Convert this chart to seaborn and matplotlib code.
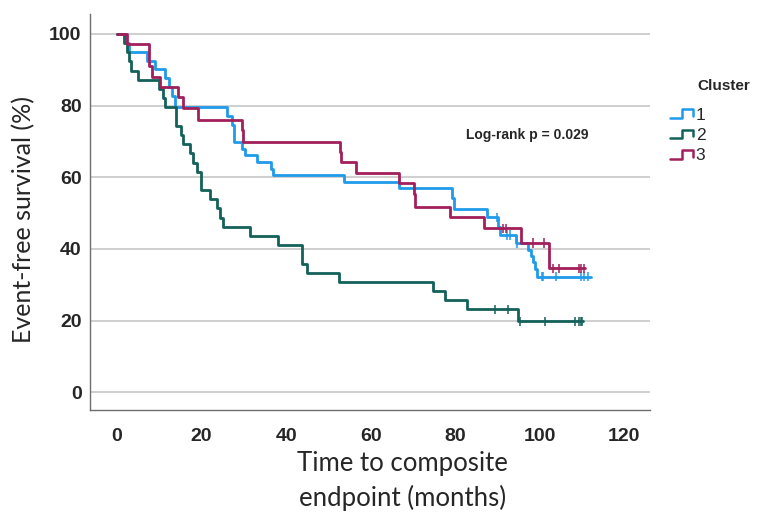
import numpy as np
import pandas as pd
import matplotlib
matplotlib.use("Agg")
import matplotlib.pyplot as plt
import seaborn as sns
from matplotlib.lines import Line2D
from matplotlib.legend_handler import HandlerBase

# Kaplan-Meier step values (months, % event-free)
c1_time = [0, 2.2, 2.8, 7.1, 9.0, 11.4, 12.2, 13.0, 13.8, 26.0, 27.3, 27.6, 27.8, 29.5, 30.3,
           33.1, 36.4, 36.9, 53.6, 66.8, 79.3, 79.8, 87.5, 90.1, 90.6, 94.3, 97.3, 97.9, 98.3,
           98.9, 99.3]
c1_surv = [100, 97.5, 95.0, 92.5, 90.3, 87.8, 85.2, 82.7, 79.6, 77.2, 74.6, 72.2, 69.8, 67.9, 66.1,
           64.3, 62.4, 60.5, 58.6, 56.9, 54.3, 51.2, 48.8, 46.2, 43.9, 41.5, 39.7, 38.0, 36.3,
           34.5, 32.2]
c1_cens = [89.9, 92.2, 93.0, 94.6, 100.5, 100.8, 103.9, 109.8, 110.4, 111.5]
c1_end = 112.1

c2_time = [0, 1.7, 2.4, 2.9, 3.4, 5.0, 10.0, 10.8, 11.4, 14.0, 15.1, 15.6, 17.3, 18.1, 18.9,
           19.8, 22.0, 23.6, 24.4, 25.2, 31.5, 38.2, 43.7, 44.9, 52.5, 74.7, 77.6, 82.9, 94.8]
c2_surv = [100, 97.4, 94.9, 92.3, 89.7, 87.2, 84.6, 82.1, 79.5, 74.4, 71.8, 69.2, 66.7, 64.1, 61.5,
           56.4, 53.8, 51.3, 48.7, 46.2, 43.6, 41.0, 35.9, 33.3, 30.8, 28.2, 25.6, 23.1, 19.8]
c2_cens = [89.3, 92.5, 95.4, 101.3, 108.4, 109.2, 109.7, 110.0]
c2_end = 110.3

c3_time = [0, 2.3, 7.6, 8.2, 10.2, 14.5, 15.7, 19.2, 29.5, 29.9, 52.8, 53.0, 56.5, 66.6, 70.3,
           70.6, 78.8, 86.7, 95.6, 102.1]
c3_surv = [100, 97.1, 90.9, 87.9, 85.2, 82.3, 79.4, 76.0, 73.1, 69.9, 67.0, 64.2, 61.2, 58.4, 55.2,
           51.8, 48.8, 45.7, 41.6, 34.6]
c3_cens = [91.4, 92.1, 98.5, 101.1, 103.1, 104.5, 109.2, 109.8, 110.4]
c3_end = 110.8

clusters = ["1", "2", "3"]
colors = {"1": "#1f9bea", "2": "#13615a", "3": "#a21f5c"}

series = {
    "1": (c1_time, c1_surv, c1_cens, c1_end),
    "2": (c2_time, c2_surv, c2_cens, c2_end),
    "3": (c3_time, c3_surv, c3_cens, c3_end),
}

# build long tables for seaborn
step_rows = []
cens_rows = []
for cl in clusters:
    t, s, cens, end = series[cl]
    t = np.array(t + [end])
    s = np.array(s + [s[-1]])
    for a, b in zip(t, s):
        step_rows.append({"time": a, "surv": b, "Cluster": cl})
    for c in cens:
        idx = np.searchsorted(t, c, side="right") - 1
        cens_rows.append({"time": c, "surv": s[idx], "Cluster": cl})
steps = pd.DataFrame(step_rows)
censored = pd.DataFrame(cens_rows)

sns.set_style("white")
plt.rcParams["font.family"] = ["Liberation Sans", "DejaVu Sans"]

fig = plt.figure(figsize=(7.68, 5.12), dpi=100)
ax = fig.add_axes([0.117, 0.199, 0.729, 0.774])

sns.lineplot(data=steps, x="time", y="surv", hue="Cluster", palette=colors,
             estimator=None, sort=False, drawstyle="steps-post", linewidth=2.0,
             legend=False, ax=ax)
sns.scatterplot(data=censored, x="time", y="surv", hue="Cluster", palette=colors,
                marker="|", s=45, linewidth=1.1, legend=False, ax=ax)

ax.set_xlim(-6.4, 126)
ax.set_ylim(-5, 105.6)
ax.set_xticks(range(0, 121, 20))
ax.set_yticks(range(0, 101, 20))
ax.yaxis.grid(True, color="#cccccc", linewidth=1.3)
ax.xaxis.grid(False)
ax.set_axisbelow(True)
for side in ["top", "right"]:
    ax.spines[side].set_visible(False)
for side in ["left", "bottom"]:
    ax.spines[side].set_color("#6e6e6e")
    ax.spines[side].set_linewidth(1.0)

ax.tick_params(axis="both", length=0)
ax.tick_params(axis="x", pad=13)
ax.tick_params(axis="y", pad=6)
for lab in ax.get_xticklabels() + ax.get_yticklabels():
    lab.set_fontfamily(["Liberation Sans Narrow", "Liberation Sans"])
    lab.set_fontweight("bold")
    lab.set_fontsize(14)

ax.set_xlabel("Time to composite\nendpoint (months)", fontsize=18.5, family="Lato",
              linespacing=1.42)
ax.xaxis.set_label_coords(0.559, -0.104)
ax.set_ylabel("Event-free survival (%)", fontsize=18, family="Lato")
ax.yaxis.set_label_coords(-0.098, 0.48)

ax.text(0.782, 0.694, "Log-rank p = 0.029", transform=ax.transAxes, ha="center",
        va="center", fontsize=10, fontweight="bold")


class StepHandler(HandlerBase):
    def create_artists(self, legend, orig_handle, xdescent, ydescent, width, height,
                       fontsize, trans):
        x0, y0 = -xdescent, -ydescent
        xs = [x0, x0 + 0.5 * width, x0 + 0.5 * width, x0 + 0.95 * width, x0 + 0.95 * width]
        ys = [y0 + 0.15 * height, y0 + 0.15 * height, y0 + 0.85 * height,
              y0 + 0.85 * height, y0 + 0.3 * height]
        line = Line2D(xs, ys, color=orig_handle.get_color(), linewidth=1.8)
        line.set_transform(trans)
        return [line]


handles = [Line2D([], [], color=colors[c]) for c in clusters]
fig.text(0.9076, 0.832, "Cluster", fontsize=11, fontweight="bold", va="center", ha="left")
fig.legend(handles, clusters, loc="upper left", bbox_to_anchor=(0.872, 0.79),
           frameon=False, fontsize=12.5, handlelength=1.4, handletextpad=0.1,
           labelspacing=0.3, borderpad=0, borderaxespad=0,
           handler_map={Line2D: StepHandler()})

fig.savefig("out.png", dpi=100)
